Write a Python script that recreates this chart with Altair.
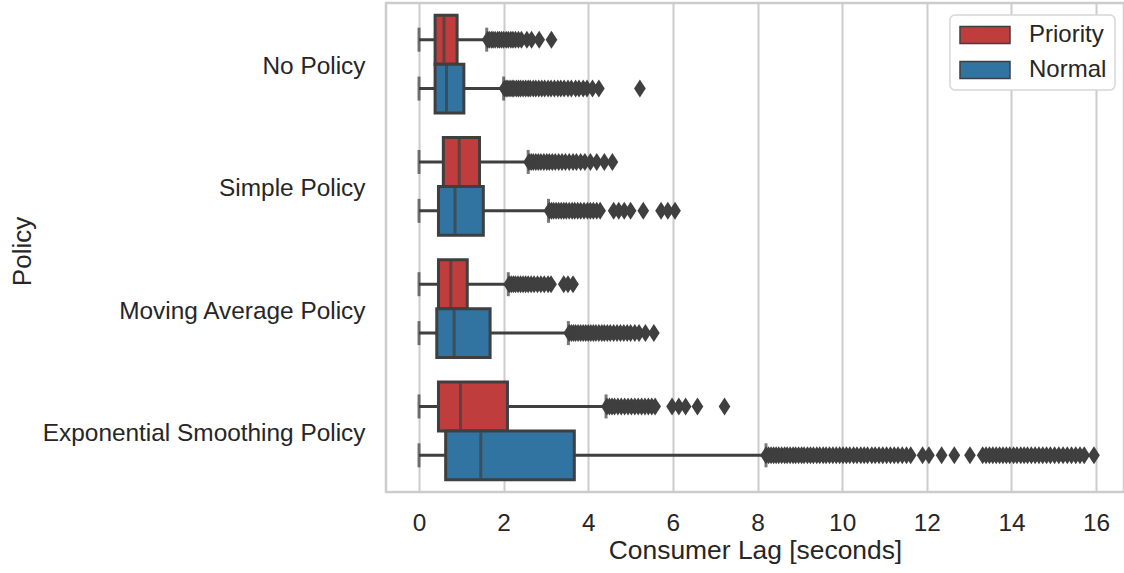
import altair as alt
import pandas as pd

# ---- data ----
policies = ["No Policy", "Simple Policy", "Moving Average Policy", "Exponential Smoothing Policy"]
groups = ["Priority", "Normal"]

# per (policy, group): whisker low, q1, median, q3, whisker high
stat_policy = ["No Policy", "No Policy", "Simple Policy", "Simple Policy",
               "Moving Average Policy", "Moving Average Policy",
               "Exponential Smoothing Policy", "Exponential Smoothing Policy"]
stat_group = ["Priority", "Normal"] * 4
whisk_lo = [0.0, 0.0, 0.0, 0.0, 0.0, 0.0, 0.0, 0.0]
q1 = [0.38, 0.38, 0.575, 0.46, 0.46, 0.42, 0.46, 0.63]
med = [0.59, 0.65, 0.95, 0.85, 0.75, 0.83, 0.98, 1.46]
q3 = [0.90, 1.06, 1.43, 1.52, 1.14, 1.68, 2.09, 3.67]
whisk_hi = [1.60, 2.00, 2.58, 3.06, 2.11, 3.53, 4.42, 8.20]

out_np_priority = [1.62, 1.66, 1.71, 1.75, 1.80, 1.86, 1.90, 1.95, 2.00, 2.06, 2.11, 2.17,
                   2.22, 2.28, 2.35, 2.42, 2.55, 2.66, 2.84, 3.13]
out_np_normal = [2.02, 2.06, 2.10, 2.15, 2.20, 2.24, 2.30, 2.35, 2.40, 2.46, 2.52, 2.58,
                 2.63, 2.70, 2.76, 2.83, 2.90, 2.97, 3.05, 3.12, 3.20, 3.28, 3.35, 3.43,
                 3.52, 3.60, 3.70, 3.78, 3.88, 3.97, 4.10, 4.25, 5.22]
out_sp_priority = [2.60, 2.65, 2.70, 2.76, 2.82, 2.88, 2.95, 3.02, 3.08, 3.15, 3.22, 3.30,
                   3.38, 3.46, 3.55, 3.64, 3.72, 3.82, 3.92, 4.05, 4.20, 4.38, 4.57]
out_sp_normal = [3.08, 3.13, 3.18, 3.24, 3.30, 3.36, 3.42, 3.48, 3.55, 3.62, 3.68, 3.75,
                 3.82, 3.90, 3.98, 4.05, 4.12, 4.20, 4.28, 4.60, 4.72, 4.85, 5.00, 5.30,
                 5.72, 5.88, 6.05]
out_ma_priority = [2.13, 2.18, 2.23, 2.28, 2.34, 2.40, 2.46, 2.52, 2.58, 2.65, 2.72, 2.80,
                   2.88, 2.96, 3.05, 3.12, 3.42, 3.52, 3.64]
out_ma_normal = [3.55, 3.60, 3.65, 3.70, 3.76, 3.82, 3.88, 3.94, 4.00, 4.06, 4.12, 4.18,
                 4.25, 4.32, 4.38, 4.45, 4.52, 4.60, 4.68, 4.76, 4.84, 4.92, 5.00, 5.10,
                 5.20, 5.35, 5.55]
out_es_priority = [4.44, 4.50, 4.56, 4.62, 4.70, 4.78, 4.86, 4.94, 5.02, 5.10, 5.18, 5.26,
                   5.34, 5.42, 5.50, 5.58, 5.98, 6.14, 6.30, 6.58, 7.22]
out_es_normal = [8.20, 8.26, 8.32, 8.38, 8.44, 8.50, 8.57, 8.64, 8.70, 8.77, 8.84, 8.90,
                 8.97, 9.04, 9.10, 9.18, 9.25, 9.32, 9.40, 9.47, 9.55, 9.62, 9.70, 9.78,
                 9.86, 9.94, 10.02, 10.10, 10.18, 10.27, 10.35, 10.44, 10.52, 10.60, 10.70,
                 10.78, 10.87, 10.96, 11.05, 11.14, 11.23, 11.32, 11.42, 11.52, 11.62,
                 11.90, 12.05, 12.35, 12.65, 13.02,
                 13.32, 13.40, 13.48, 13.56, 13.64, 13.72, 13.80, 13.88, 13.96, 14.05,
                 14.13, 14.22, 14.30, 14.38, 14.47, 14.56, 14.65, 14.74, 14.83, 14.92,
                 15.02, 15.12, 15.22, 15.32, 15.42, 15.52, 15.62, 15.72, 15.95]

colors = ["#c03d3e", "#3274a1"]
x_ticks = [0, 2, 4, 6, 8, 10, 12, 14, 16]

# ---- tables ----
stats = pd.DataFrame({
    "policy": stat_policy, "group": stat_group, "lo": whisk_lo,
    "q1": q1, "med": med, "q3": q3, "hi": whisk_hi,
})
outlier_sets = [
    ("No Policy", "Priority", out_np_priority), ("No Policy", "Normal", out_np_normal),
    ("Simple Policy", "Priority", out_sp_priority), ("Simple Policy", "Normal", out_sp_normal),
    ("Moving Average Policy", "Priority", out_ma_priority), ("Moving Average Policy", "Normal", out_ma_normal),
    ("Exponential Smoothing Policy", "Priority", out_es_priority),
    ("Exponential Smoothing Policy", "Normal", out_es_normal),
]
rows = []
for p, g, vals in outlier_sets:
    for v in vals:
        rows.append({"policy": p, "group": g, "value": v})
outliers = pd.DataFrame(rows)

LINE = "#3f3f3f"
TEXT = "#262626"
FONT = "Liberation Sans"

xscale = alt.Scale(domain=[-0.78, 16.66], nice=False, zero=False)
y_enc = alt.Y("policy:N", sort=policies,
              scale=alt.Scale(type="band", paddingInner=0.2, paddingOuter=0.1),
              axis=alt.Axis(title="Policy", labelFontSize=24.4, labelColor=TEXT, labelPadding=21,
                            labelOffset=3,
                            labelFont=FONT, titleFont=FONT, titleFontSize=26, titleColor=TEXT,
                            titleFontWeight="normal", titleAngle=270, titleAlign="center",
                            titleBaseline="middle", titleX=-364, titleY=248,
                            grid=False, ticks=False, domain=False, labelLimit=400))
yoff_enc = alt.YOffset("group:N", sort=groups,
                       scale=alt.Scale(type="band", paddingInner=0, paddingOuter=0))
x_axis = alt.Axis(title="Consumer Lag [seconds]", values=x_ticks, format="d",
                  labelFontSize=24.4, labelColor=TEXT, labelFont=FONT, labelPadding=19,
                  titleFont=FONT, titleFontSize=26.4, titleColor=TEXT, titleFontWeight="normal",
                  titlePadding=3, grid=True, gridColor="#cccccc", gridWidth=2,
                  ticks=False, domain=False)

base = alt.Chart(stats).encode(y=y_enc, yOffset=yoff_enc)

whisker = base.mark_rule(color=LINE, strokeWidth=3).encode(
    x=alt.X("lo:Q", scale=xscale, axis=x_axis), x2="hi:Q")

cap_lo = base.mark_tick(color=LINE, thickness=3, size=24).encode(x=alt.X("lo:Q", scale=xscale))
cap_hi = base.mark_tick(color=LINE, thickness=3, size=24).encode(x=alt.X("hi:Q", scale=xscale))

box = base.mark_bar(stroke=LINE, strokeWidth=3, opacity=1).encode(
    x=alt.X("q1:Q", scale=xscale), x2="q3:Q",
    color=alt.Color("group:N", sort=groups,
                    scale=alt.Scale(domain=groups, range=colors),
                    legend=alt.Legend(title=None, orient="none", legendX=564, legendY=12,
                                      fillColor="white", strokeColor="#d6d6d6",
                                      cornerRadius=5, padding=8,
                                      labelFontSize=24, labelColor=TEXT, labelFont=FONT,
                                      symbolType="M-2.5,-0.85H2.5V0.85H-2.5Z",
                                      symbolSize=400, symbolStrokeColor=LINE,
                                      symbolStrokeWidth=1.5, symbolOffset=15,
                                      labelOffset=32, rowPadding=11)))

median = base.mark_tick(color=LINE, thickness=3, size=46).encode(x=alt.X("med:Q", scale=xscale))

points = alt.Chart(outliers).mark_point(
    shape="M0,-1L0.65,0L0,1L-0.65,0Z", filled=True, fill=LINE, opacity=1, size=324,
    strokeWidth=0).encode(
    x=alt.X("value:Q", scale=xscale), y=y_enc, yOffset=yoff_enc)

chart = alt.layer(whisker, points, cap_lo, cap_hi, box, median).properties(
    width=738, height=489,
    autosize=alt.AutoSizeParams(type="none"),
    padding={"left": 386, "top": 3, "right": 0, "bottom": 81},
    background="white",
).configure_view(stroke="#cccccc", strokeWidth=2.5).configure_legend(strokeWidth=1.5)

chart.save("out.html", embed_options={"renderer": "svg", "actions": False})
